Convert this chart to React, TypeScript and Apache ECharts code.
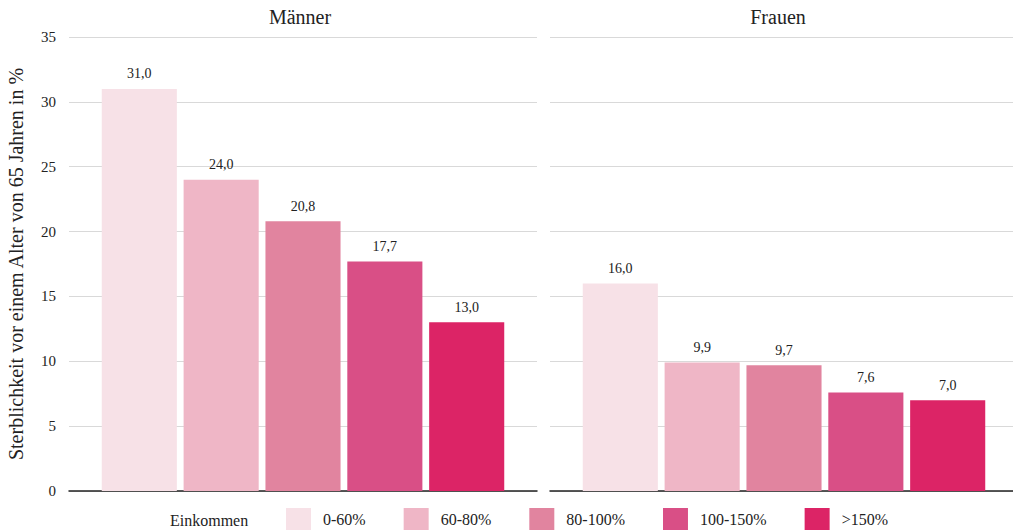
import React, { useEffect, useRef } from "react";
import * as echarts from "echarts";

const panels = ["Männer", "Frauen"];
const incomeGroups = ["0-60%", "60-80%", "80-100%", "100-150%", ">150%"];
const maleValues = [31.0, 24.0, 20.8, 17.7, 13.0];
const femaleValues = [16.0, 9.9, 9.7, 7.6, 7.0];
const colors = ["#f7e1e7", "#efb6c6", "#e1849f", "#d94f86", "#dc2466"];
const yAxisTitle = "Sterblichkeit vor einem Alter von 65 Jahren in %";
const legendTitle = "Einkommen";

const FONT = "Liberation Serif";

export default function App() {
  const ref = useRef<HTMLDivElement>(null);
  useEffect(() => {
    if (!ref.current) return;
    const chart = echarts.init(ref.current, undefined, { renderer: "svg" });
    const panelValues = [maleValues, femaleValues];
    const series: any[] = [];
    panelValues.forEach((vals, p) => {
      incomeGroups.forEach((g, i) => {
        series.push({
          type: "bar",
          name: g,
          xAxisIndex: p,
          yAxisIndex: p,
          data: [vals[i]],
          barGap: "9%",
          barCategoryGap: "14%",
          itemStyle: { color: colors[i] },
          label: {
            show: true,
            position: "top",
            distance: 8,
            color: "#222",
            fontFamily: FONT,
            fontSize: 14,
            formatter: (pr: any) => Number(pr.value).toFixed(1).replace(".", ","),
          },
        });
      });
    });
    const yAxisCommon = {
      type: "value",
      min: 0,
      max: 35,
      interval: 5,
      axisLine: { show: false },
      axisTick: { show: false },
      splitLine: { lineStyle: { color: "#d9d9d9", width: 1 } },
    };
    chart.setOption({
      animation: false,
      backgroundColor: "#ffffff",
      textStyle: { fontFamily: FONT },
      grid: [
        { left: 69, width: 468, top: 37, bottom: 41 },
        { left: 550, width: 468, top: 37, bottom: 41 },
      ],
      xAxis: [0, 1].map((p) => ({
        type: "category",
        gridIndex: p,
        data: [panels[p]],
        axisLabel: { show: false },
        axisTick: { show: false },
        axisLine: { show: true, lineStyle: { color: "#222", width: 1.5 } },
      })),
      yAxis: [
        {
          ...yAxisCommon,
          gridIndex: 0,
          name: yAxisTitle,
          nameLocation: "middle",
          nameGap: 43,
          nameTextStyle: { fontFamily: FONT, fontSize: 20, color: "#222" },
          axisLabel: { fontFamily: FONT, fontSize: 15, color: "#222", margin: 13 },
        },
        {
          ...yAxisCommon,
          gridIndex: 1,
          axisLabel: { show: false },
        },
      ],
      legend: {
        data: incomeGroups,
        left: 281,
        top: 503,
        itemWidth: 25,
        itemHeight: 22,
        itemGap: 38,
        icon: "rect",
        textStyle: { fontFamily: FONT, fontSize: 16, color: "#222", padding: [0, 0, 0, 7] },
        selectedMode: false,
      },
      graphic: [
        {
          type: "text",
          x: 170,
          y: 520,
          style: {
            text: legendTitle,
            fontFamily: FONT,
            fontSize: 16,
            fill: "#222",
            verticalAlign: "middle",
          },
        },
        {
          type: "text",
          x: 300,
          y: 17,
          style: {
            text: panels[0],
            fontFamily: FONT,
            fontSize: 20,
            fill: "#222",
            align: "center",
            verticalAlign: "middle",
          },
        },
        {
          type: "text",
          x: 778,
          y: 17,
          style: {
            text: panels[1],
            fontFamily: FONT,
            fontSize: 20,
            fill: "#222",
            align: "center",
            verticalAlign: "middle",
          },
        },
      ],
      series,
    });
    return () => chart.dispose();
  }, []);
  return (
    <div
      style={{
        position: "absolute",
        left: 0,
        top: 0,
        width: 1013,
        height: 532,
        overflow: "hidden",
      }}
    >
      <div ref={ref} style={{ width: 1020, height: 532 }} />
    </div>
  );
}
